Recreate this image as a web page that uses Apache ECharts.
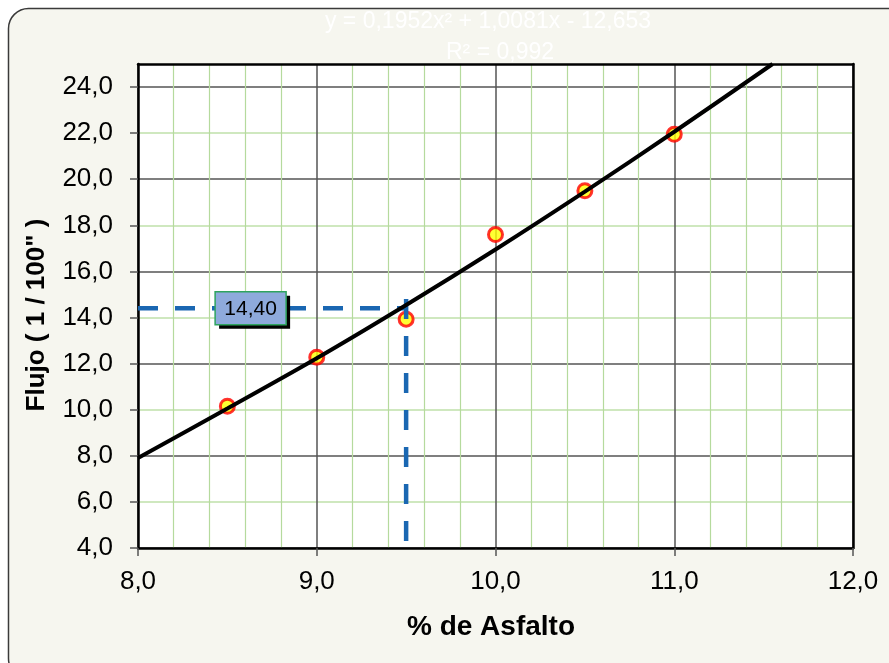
<!DOCTYPE html>
<html><head><meta charset="utf-8">
<script src="https://cdn.jsdelivr.net/npm/echarts@6/dist/echarts.min.js"></script>
<style>html,body{margin:0;padding:0;background:#fff}#c{width:889px;height:663px}</style>
</head><body><div id="c"></div>
<script>
// Data
const asphalt = [8.5, 9.0, 9.5, 10.0, 10.5, 11.0];
const flow = [10.15, 12.28, 13.93, 17.6, 19.5, 21.95];
const trendX = [8.0, 8.5, 9.0, 9.5, 10.0, 10.5, 11.0, 11.55];
const trendY = [7.9, 10.05, 12.23, 14.54, 16.95, 19.46, 22.06, 25.0];
const xTicks = [8, 9, 10, 11, 12];
const yTicks = [4, 6, 8, 10, 12, 14, 16, 18, 20, 22, 24];
const guideX = 9.5;
const guideY = 14.4;
const guideTop = 14.8;
const guideLabelX = 8.63;
const guideLabel = '14,40';
const equation = 'y = 0,1952x² + 1,0081x - 12,653';
const r2Text = 'R² = 0,992';
const xName = '% de Asfalto';
const yName = 'Flujo ( 1 / 100" )';

const fmt = v => Number(v).toFixed(1).replace('.', ',');
const FONT = '"Liberation Sans", Arial, sans-serif';

const chart = echarts.init(document.getElementById('c'), null, {renderer: 'canvas'});
const option = {
  animation: false,
  backgroundColor: '#ffffff',
  grid: {left: 138, right: 36, top: 64, bottom: 115, show: true, backgroundColor: '#ffffff', borderWidth: 0},
  xAxis: [{
    type: 'value', min: xTicks[0], max: xTicks[xTicks.length - 1], interval: 1,
    axisLine: {show: true, lineStyle: {color: '#000', width: 2.5}},
    axisTick: {show: true, length: 8, lineStyle: {color: '#555', width: 1.5}},
    axisLabel: {fontSize: 26, fontFamily: FONT, color: '#000', margin: 21, formatter: fmt},
    splitLine: {show: true, lineStyle: {color: '#555555', width: 1.5}},
    minorTick: {show: false, splitNumber: 5},
    minorSplitLine: {show: true, lineStyle: {color: '#b5da9d', width: 1.2}}
  }, {
    type: 'value', position: 'top', min: xTicks[0], max: xTicks[xTicks.length - 1], interval: 1,
    axisLine: {show: true, onZero: false, lineStyle: {color: '#000', width: 2.5}},
    axisTick: {show: false}, axisLabel: {show: false}, splitLine: {show: false}
  }],
  yAxis: [{
    type: 'value', min: 4, max: 25, interval: 1,
    axisLine: {show: true, lineStyle: {color: '#000', width: 2.5}},
    axisTick: {show: true, customValues: yTicks, length: 8, lineStyle: {color: '#555', width: 1.5}},
    axisLabel: {customValues: yTicks, fontSize: 26, fontFamily: FONT, color: '#000', margin: 25, formatter: fmt},
    splitLine: {show: true, lineStyle: {color: ['#555555', '#bfe0aa'], width: 1.5}}
  }, {
    type: 'value', position: 'right', min: 4, max: 25, interval: 1,
    axisLine: {show: true, onZero: false, lineStyle: {color: '#000', width: 2.5}},
    axisTick: {show: false}, axisLabel: {show: false}, splitLine: {show: false}
  }],
  series: [
    {type: 'line', xAxisIndex: 0, yAxisIndex: 0, showSymbol: false, silent: true,
     data: [[xTicks[0], guideY], [guideX, guideY]],
     lineStyle: {color: '#1a67b2', width: 4.5, type: [20, 17]}},
    {type: 'line', xAxisIndex: 0, yAxisIndex: 0, showSymbol: false, silent: true,
     data: [[guideX, guideTop], [guideX, yTicks[0]]],
     lineStyle: {color: '#1a67b2', width: 4.5, type: [20, 17]}},
    {type: 'scatter', xAxisIndex: 0, yAxisIndex: 0, symbol: 'circle', symbolSize: 14,
     data: asphalt.map((x, i) => [x, flow[i]]),
     itemStyle: {color: '#ffff00', borderColor: '#ff0000', borderWidth: 3}},
    {type: 'line', xAxisIndex: 0, yAxisIndex: 0, showSymbol: false, smooth: 0.3, clip: true,
     data: trendX.map((x, i) => [x, trendY[i]]),
     lineStyle: {color: '#000', width: 4}}
  ]
};
chart.setOption(option);

// Value label box placed at the guide line through the chart's own scale
const p = chart.convertToPixel({xAxisIndex: 0, yAxisIndex: 0}, [guideLabelX, guideY]);
const bw = 71, bh = 33;
chart.setOption({
  graphic: [
    {id: 'frame', type: 'rect', z: -10, shape: {x: 8.5, y: 8.5, width: 905, height: 670, r: 20},
     style: {fill: '#f6f6ef', stroke: '#3a3a3a', lineWidth: 1.5}},
    {id: 'eq', type: 'text', z: 5, x: 488, y: 22, style: {text: equation, fill: '#ffffff', font: '23px ' + FONT, textAlign: 'center', textVerticalAlign: 'middle'}},
    {id: 'r2', type: 'text', z: 5, x: 500, y: 53, style: {text: r2Text, fill: '#ffffff', font: '23px ' + FONT, textAlign: 'center', textVerticalAlign: 'middle'}},
    {id: 'yname', type: 'text', z: 5, x: 37, y: 315, rotation: Math.PI / 2, style: {text: yName, fill: '#000', font: 'bold 26px ' + FONT, textAlign: 'center', textVerticalAlign: 'middle'}},
    {id: 'xname', type: 'text', z: 5, x: 491, y: 627, style: {text: xName, fill: '#000', font: 'bold 28px ' + FONT, textAlign: 'center', textVerticalAlign: 'middle'}},
    {id: 'lblShadow', type: 'rect', z: 20, shape: {x: p[0] - bw / 2 + 4, y: p[1] - bh / 2 + 4, width: bw, height: bh},
     style: {fill: '#000000'}},
    {id: 'lblBox', type: 'rect', z: 21, shape: {x: p[0] - bw / 2, y: p[1] - bh / 2, width: bw, height: bh},
     style: {fill: '#8eaadc', stroke: '#2ea35f', lineWidth: 1.5}},
    {id: 'lblText', type: 'text', z: 22, x: p[0], y: p[1] + 1,
     style: {text: guideLabel, fill: '#000', font: '21px ' + FONT, textAlign: 'center', textVerticalAlign: 'middle'}}
  ]
});
</script>
</body></html>
